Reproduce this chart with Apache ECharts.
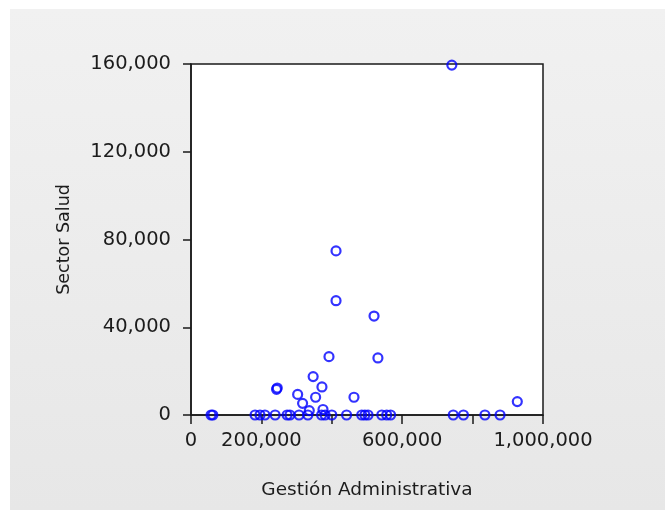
<!DOCTYPE html>
<html>
<head>
<meta charset="utf-8">
<script src="https://cdn.jsdelivr.net/npm/echarts@6/dist/echarts.min.js"></script>
<style>
html,body{margin:0;padding:0;background:#ffffff;overflow:hidden;}
#bg{position:absolute;left:10px;top:9px;width:655px;height:501px;background:linear-gradient(#f1f1f1,#e7e7e7);}
#chart{position:absolute;left:0;top:0;width:665px;height:510px;}
</style>
</head>
<body>
<div id="bg"></div>
<div id="chart"></div>
<script>
// Gestión Administrativa (x) vs Sector Salud (y)
const xVals = [57000, 62000, 182000, 196000, 210000, 239000, 273000, 281000, 307000, 332000, 371000, 381000, 400000, 442000, 485000, 494000, 503000, 542000, 556000, 567000, 745000, 774000, 835000, 878000,
  243000, 245000, 303000, 317000, 336000, 347000, 354000, 372000, 375000, 392000, 412000, 412000, 463000, 520000, 531000, 741000, 927000];
const yVals = [0, 0, 0, 0, 0, 0, 0, 0, 0, 0, 0, 0, 0, 0, 0, 0, 0, 0, 0, 0, 0, 0, 0, 0,
  11700, 12300, 9400, 5300, 2000, 17500, 8100, 12800, 2500, 26600, 74800, 52100, 8100, 45100, 26000, 159500, 6100];
const xTickValues = [0, 200000, 400000, 600000, 800000, 1000000];
const xTickLabels = ['0', '200,000', '', '600,000', '', '1,000,000'];
const yTickValues = [0, 40000, 80000, 120000, 160000];
const yTickLabels = ['0', '40,000', '80,000', '120,000', '160,000'];
const xTitle = 'Gestión Administrativa';
const yTitle = 'Sector Salud';

const points = xVals.map((x, i) => [x, yVals[i]]);
const font = 'DejaVu Sans';
const txt = '#1c1c1c';

const chart = echarts.init(document.getElementById('chart'), null, {renderer: 'canvas', width: 665, height: 510});
chart.setOption({
  backgroundColor: 'transparent',
  animation: false,
  grid: {left: 191, top: 64, width: 352, height: 351, show: true, backgroundColor: '#ffffff', borderColor: '#1a1a1a', borderWidth: 1.5},
  xAxis: {
    type: 'value', min: 0, max: 1000000, interval: 200000,
    name: xTitle, nameLocation: 'middle', nameGap: 66,
    nameTextStyle: {color: txt, fontFamily: font, fontSize: 18.5},
    axisLine: {show: true, onZero: false, lineStyle: {color: '#1a1a1a', width: 1.5}},
    axisTick: {show: true, length: 9, lineStyle: {color: '#1a1a1a', width: 1.5}},
    splitLine: {show: false},
    axisLabel: {color: txt, fontFamily: font, fontSize: 19.5, margin: 16,
      formatter: v => { const i = xTickValues.indexOf(v); return i >= 0 ? xTickLabels[i] : ''; }}
  },
  yAxis: {
    type: 'value', min: 0, max: 160000, interval: 40000,
    name: yTitle, nameLocation: 'middle', nameGap: 118, nameRotate: 90,
    nameTextStyle: {color: txt, fontFamily: font, fontSize: 17.5},
    axisLine: {show: true, onZero: false, lineStyle: {color: '#1a1a1a', width: 1.5}},
    axisTick: {show: true, length: 8, lineStyle: {color: '#1a1a1a', width: 1.5}},
    splitLine: {show: false},
    axisLabel: {color: txt, fontFamily: font, fontSize: 19.5, margin: 20,
      formatter: v => { const i = yTickValues.indexOf(v); return i >= 0 ? yTickLabels[i] : ''; }}
  },
  series: [{
    type: 'scatter',
    data: points,
    symbol: 'circle',
    symbolSize: 9,
    clip: false,
    itemStyle: {color: 'rgba(0,0,0,0)', borderColor: '#0000ff', borderWidth: 2.2}
  }]
});
</script>
</body>
</html>
